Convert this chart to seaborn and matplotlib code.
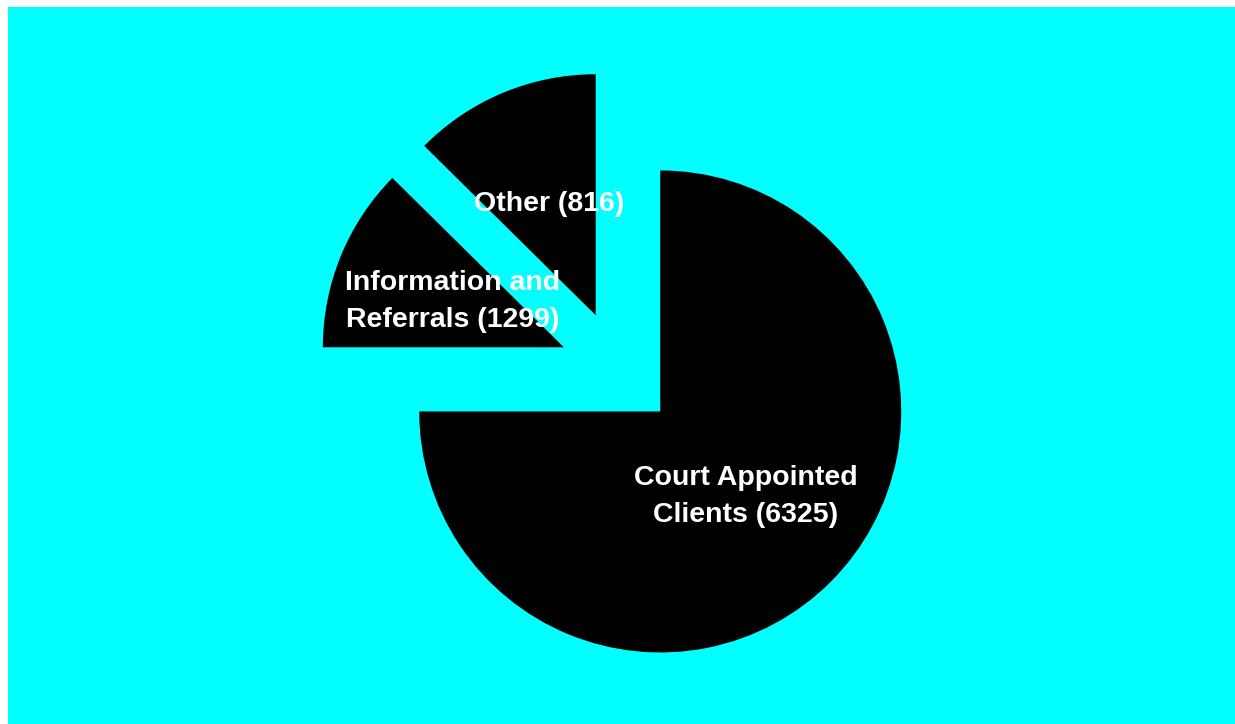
import matplotlib
matplotlib.use('Agg')
import matplotlib.pyplot as plt
import seaborn as sns

# Labels and counts printed on the chart
label_names = ['Court Appointed\nClients', 'Information and\nReferrals', 'Other']
counts = [6325, 1299, 816]
# Share of the circle each slice takes, as drawn (percent)
slice_pct = [75.0, 12.4, 12.6]

sns.set_theme(style='white', rc={'axes.facecolor': '#00FFFF', 'figure.facecolor': 'white'})
plt.rcParams['font.family'] = ['Liberation Sans', 'DejaVu Sans']

fig = plt.figure(figsize=(12.35, 7.24), dpi=100)
ax = fig.add_axes([8 / 1235, 0, 1227 / 1235, 717 / 724])

labels = [f'{name} ({n})' for name, n in zip(label_names, counts)]
wedges, texts = ax.pie(slice_pct, labels=labels, colors=['black'] * len(slice_pct),
                       startangle=90, counterclock=False, explode=[0.245] * len(slice_pct),
                       labeldistance=0.5, frame=True, wedgeprops={'linewidth': 0})

for t in texts:
    t.set_color('white')
    t.set_fontweight('bold')
    t.set_fontsize(20.5)
    t.set_ha('center')
    t.set_va('center')
    t.set_multialignment('center')
    t.set_linespacing(1.56)

# pie centre sits at about (618, 369) px with a 241 px radius
ax.set_aspect('auto')
ax.set_xlim(-2.533, 2.558)
ax.set_ylim(-1.470, 1.505)
ax.set_xticks([])
ax.set_yticks([])
for s in ax.spines.values():
    s.set_visible(False)

fig.savefig('out.png', dpi=100)
